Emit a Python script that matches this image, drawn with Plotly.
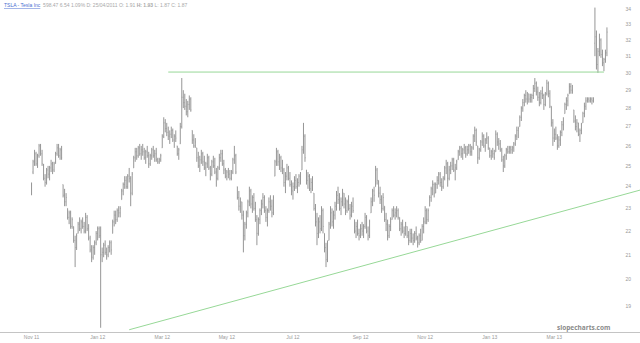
import math
import pandas as pd
import plotly.graph_objects as go

# ---------------- data ----------------
opens = [
    23.7,
    24.7, 25.2, 25.6,
    25.1, 25.5, 26.0, 25.6,
    25.0, 24.4, 24.2,
    24.8, 24.6, 24.9, 25.1, 24.8,
    25.2, 25.6, 25.9, 25.5, 25.8,
    24.1, 23.6, 23.3,
    23.0, 22.6, 22.8, 22.2,
    22.2, 21.6, 21.3,
    21.9, 22.3, 22.1, 22.4, 22.2,
    22.0, 22.6, 22.1,
    21.7, 21.2, 20.9, 21.3,
    21.5, 21.9, 22.1,
    21.8,
    21.0, 21.1, 21.4, 21.1, 21.0, 21.3, 21.5,
    21.9, 22.4, 22.7,
    22.5, 22.9, 22.8,
    23.4, 23.8, 24.1, 24.3,
    24.0, 24.5, 24.4, 23.7,
    24.9, 25.4, 25.7,
    25.5, 25.9, 25.6, 25.8, 25.7,
    25.4, 25.7, 25.5, 25.1, 25.5, 25.8, 25.5, 25.6,
    25.3, 25.2, 25.3,
    25.9, 26.5, 27.2, 26.9,
    26.7, 26.5, 26.6, 26.8, 26.3, 26.5,
    26.0, 25.6,
    26.1, 27.0, 28.6,
    28.3, 28.1, 27.8, 28.2, 28.5,
    26.8, 26.3, 26.0,
    25.9, 25.4, 25.0, 25.3, 25.6,
    25.2, 24.9, 25.1, 25.4, 24.9, 24.6, 25.2,
    25.0, 24.7, 24.4, 24.9, 25.4, 25.6, 25.1,
    24.8, 24.5, 24.7, 24.6, 24.4,
    24.7, 25.3, 25.5,
    24.0, 23.5, 23.1,
    23.3, 22.7, 21.8, 22.3,
    22.8, 23.3, 23.8, 23.2, 23.5,
    23.0, 22.5, 21.9, 22.5,
    22.9, 23.2, 23.5, 22.9, 22.6, 22.9, 23.3, 23.1, 22.8,
    24.5, 25.2, 25.7, 25.2, 25.4,
    24.9, 24.8, 24.2, 24.5, 24.9,
    24.4, 24.1, 23.8, 24.0, 24.3, 24.0, 24.2, 24.5,
    24.8, 25.8, 26.5,
    24.8, 24.3, 24.5, 23.9, 24.2,
    23.7, 23.0, 22.4, 21.9, 22.4,
    22.1, 22.9,
    21.9, 21.3, 20.8,
    21.6, 22.3, 22.8, 22.4,
    22.7, 23.1, 23.6, 23.4, 23.0, 23.3,
    23.7, 23.2, 22.9, 23.3, 23.0, 22.7, 23.1,
    22.5, 22.0, 22.2, 21.9, 21.8, 22.1, 22.0,
    22.2, 22.6, 22.0, 21.8,
    22.8, 23.3, 23.8,
    24.0, 24.8,
    24.3, 23.7, 23.4, 23.0,
    23.1, 22.5, 22.3, 21.8, 22.2,
    22.5, 22.9, 22.7, 22.8, 22.9,
    22.6, 22.1, 22.3, 22.0, 21.9,
    22.2, 21.8, 21.6, 21.9, 21.7,
    21.6, 21.9, 21.7, 21.5, 21.8,
    21.6, 22.2, 22.4, 22.9, 22.5,
    23.1, 23.5, 23.9, 24.1,
    23.7, 24.1, 24.3, 24.6, 24.2, 24.0,
    24.4, 24.9, 25.1, 24.4,
    24.8, 25.0, 25.3, 24.8, 24.9,
    25.3, 25.7, 25.9, 25.6,
    25.8, 25.9, 25.6, 25.8, 26.0, 25.7,
    25.9, 26.5, 26.8,
    26.0, 25.4, 25.8,
    26.2, 26.5, 26.0, 26.3, 26.4,
    25.9, 25.5, 25.7, 25.6,
    25.7, 26.6, 26.2, 26.1,
    25.8, 25.3, 25.0, 25.5,
    25.8, 25.7, 25.9, 25.8, 25.9,
    26.1, 26.5, 26.8,
    27.0, 27.5, 28.0,
    28.3, 28.7, 28.5,
    28.8, 28.5, 28.6,
    28.7, 29.1, 29.4,
    28.9, 28.6, 28.3,
    28.8, 28.7, 28.2,
    28.8, 29.4, 28.8,
    28.1, 27.2, 26.4,
    26.6, 26.4, 26.0,
    26.3, 26.7, 27.1,
    27.7, 28.2, 28.4,
    28.8, 29.2, 29.0,
    27.9, 27.3, 27.0,
    27.2, 26.6, 26.8,
    27.2, 27.7, 28.1,
    28.4, 28.5, 28.4, 28.5, 28.4,
    31.8, 32.2,
    30.5, 31.3, 32.0,
    31.1, 30.6, 30.8,
    31.2,
]

highs = [
    24.2,
    25.3, 25.8, 25.7,
    25.6, 26.1, 26.1, 25.8,
    25.1, 24.6, 24.9,
    25.0, 25.0, 25.3, 25.2, 25.2,
    25.7, 26.1, 26.1, 25.9, 26.0,
    24.1, 23.9, 23.7,
    23.0, 22.9, 22.9, 22.6,
    22.2, 21.8, 21.9,
    22.4, 22.6, 22.5, 22.6, 22.4,
    22.8, 22.7, 22.3,
    21.8, 21.4, 21.4, 21.6,
    22.0, 22.2, 22.2,
    22.2,
    21.3, 21.5, 21.6, 21.3, 21.4, 21.6, 21.6,
    22.5, 22.9, 22.9,
    23.0, 23.1, 23.1,
    23.9, 24.2, 24.5, 24.5,
    24.6, 24.9, 24.5, 24.7,
    25.5, 25.9, 25.9,
    26.0, 26.1, 26.0, 26.1, 25.9,
    25.8, 26.0, 25.7, 25.6, 25.9, 26.0, 25.8, 25.9,
    25.4, 25.4, 25.6,
    26.6, 27.5, 27.4, 27.2,
    27.0, 26.8, 27.0, 26.9, 26.6, 26.8,
    26.0, 25.9,
    27.2, 29.7, 29.0,
    28.8, 28.5, 28.4, 28.7, 28.6,
    26.8, 26.6, 26.4,
    25.9, 25.7, 25.5, 25.8, 25.7,
    25.5, 25.2, 25.6, 25.5, 25.0, 25.3, 25.5,
    25.4, 24.9, 25.0, 25.6, 25.8, 25.8, 25.3,
    24.9, 24.8, 24.9, 24.8, 24.8,
    25.4, 26.0, 25.6,
    24.0, 23.8, 23.5,
    23.3, 22.9, 22.4, 22.9,
    23.4, 24.0, 23.9, 23.6, 23.7,
    23.3, 22.7, 22.6, 23.0,
    23.4, 23.7, 23.6, 23.1, 23.0, 23.5, 23.6, 23.4, 23.6,
    25.3, 25.9, 25.8, 25.6, 25.5,
    25.3, 24.9, 24.7, 25.1, 25.0,
    24.7, 24.3, 24.2, 24.5, 24.6, 24.4, 24.6, 24.7,
    26.0, 27.2, 26.6,
    24.8, 24.7, 24.6, 24.4, 24.5,
    23.7, 23.2, 22.8, 22.6, 22.7,
    23.1, 23.0,
    21.9, 21.5, 21.6,
    22.4, 23.1, 23.0, 22.9,
    23.3, 23.8, 24.0, 23.7, 23.5, 23.9,
    23.7, 23.5, 23.4, 23.6, 23.2, 23.3, 23.5,
    22.5, 22.4, 22.5, 22.1, 22.3, 22.4, 22.3,
    22.8, 22.7, 22.2, 22.5,
    23.5, 23.9, 24.0,
    25.0, 24.9,
    24.3, 24.0, 23.6, 23.7,
    23.1, 22.8, 22.5, 22.3, 22.6,
    23.0, 23.1, 23.0, 23.1, 23.0,
    22.6, 22.4, 22.5, 22.2, 22.4,
    22.2, 22.0, 22.1, 22.1, 21.9,
    22.0, 22.2, 21.8, 21.9, 22.1,
    22.3, 22.6, 23.1, 23.0, 23.0,
    23.6, 24.0, 24.3, 24.2,
    24.2, 24.5, 24.7, 24.7, 24.4, 24.5,
    25.0, 25.3, 25.2, 25.0,
    25.2, 25.4, 25.4, 25.1, 25.3,
    25.8, 26.0, 26.0, 25.9,
    26.1, 26.0, 26.0, 26.1, 26.1, 26.0,
    26.6, 27.0, 26.9,
    26.0, 25.9, 26.3,
    26.7, 26.6, 26.4, 26.7, 26.5,
    25.9, 25.8, 25.9, 25.8,
    26.8, 26.7, 26.4, 26.3,
    25.9, 25.5, 25.6, 25.9,
    26.0, 26.0, 26.0, 26.0, 26.2,
    26.6, 27.0, 27.0,
    27.6, 28.1, 28.5,
    28.8, 29.0, 28.9,
    28.8, 28.8, 28.8,
    29.3, 29.7, 29.5,
    29.2, 28.9, 29.0,
    29.2, 28.8, 28.9,
    29.6, 29.5, 29.0,
    28.1, 27.4, 26.9,
    27.0, 26.6, 26.5,
    26.8, 27.3, 27.5,
    28.3, 28.6, 28.8,
    29.4, 29.4, 29.3,
    27.9, 27.6, 27.4,
    27.2, 26.9, 27.2,
    27.8, 28.3, 28.6,
    28.6, 28.6, 28.6, 28.6, 28.6,
    34.1, 32.6,
    31.5, 32.4, 32.1,
    31.4, 30.9, 31.4,
    32.8,
]

lows = [
    23.6,
    24.6, 25.0, 25.0,
    24.9, 25.4, 25.5, 25.0,
    24.3, 24.0, 24.1,
    24.4, 24.3, 24.7, 24.6, 24.7,
    25.1, 25.5, 25.4, 25.3, 25.3,
    23.5, 23.1, 23.1,
    22.5, 22.3, 22.1, 22.1,
    21.5, 20.5, 21.2,
    21.9, 22.0, 21.9, 22.1, 21.9,
    21.9, 22.0, 21.6,
    21.1, 20.7, 20.8, 21.0,
    21.4, 21.6, 21.7,
    18.2,
    20.7, 20.9, 21.0, 20.8, 20.9, 21.1, 21.0,
    21.9, 22.2, 22.3,
    22.4, 22.6, 22.6,
    23.4, 23.6, 23.9, 23.9,
    23.9, 24.2, 23.1, 23.6,
    24.9, 25.2, 25.3,
    25.4, 25.5, 25.3, 25.5, 25.3,
    25.1, 25.4, 24.9, 25.0, 25.3, 25.4, 25.2, 25.2,
    25.1, 25.1, 25.2,
    25.9, 26.4, 26.7, 26.5,
    26.3, 26.1, 26.4, 26.2, 25.9, 26.2,
    25.5, 25.3,
    26.1, 26.9, 28.0,
    27.9, 27.6, 27.5, 27.9, 27.8,
    26.1, 25.9, 25.9,
    25.2, 24.9, 24.7, 25.1, 25.0,
    24.8, 24.5, 24.9, 24.8, 24.3, 24.5, 24.9,
    24.6, 24.0, 24.3, 24.8, 25.2, 25.0, 24.6,
    24.4, 24.3, 24.4, 24.3, 24.3,
    24.6, 25.1, 24.6,
    23.4, 22.9, 22.8,
    22.5, 21.1, 21.6, 22.1,
    22.6, 23.1, 23.0, 22.8, 22.9,
    22.4, 21.4, 21.8, 22.3,
    22.7, 23.0, 22.8, 22.4, 22.2, 22.8, 22.9, 22.6, 22.7,
    24.5, 25.0, 25.0, 24.8, 24.7,
    24.6, 24.0, 23.7, 24.3, 24.3,
    24.0, 23.6, 23.4, 23.8, 23.9, 23.7, 24.0, 24.1,
    24.8, 25.6, 25.2,
    24.1, 23.9, 23.8, 23.7, 23.8,
    22.9, 22.2, 21.4, 21.7, 21.9,
    22.0, 21.9,
    21.1, 20.5, 20.7,
    21.6, 22.1, 22.2, 22.1,
    22.5, 22.9, 23.2, 22.9, 22.7, 23.1,
    23.0, 22.7, 22.8, 22.9, 22.5, 22.6, 22.8,
    21.9, 21.7, 21.8, 21.6, 21.7, 21.8, 21.7,
    22.1, 21.9, 21.6, 21.7,
    22.8, 23.1, 23.3,
    24.0, 24.1,
    23.5, 23.2, 22.8, 22.9,
    22.4, 22.0, 21.6, 21.7, 22.0,
    22.5, 22.6, 22.5, 22.6, 22.5,
    22.0, 21.8, 21.9, 21.7, 21.8,
    21.7, 21.4, 21.5, 21.5, 21.4,
    21.5, 21.6, 21.3, 21.4, 21.5,
    21.6, 21.9, 22.3, 22.3, 22.4,
    23.1, 23.3, 23.6, 23.5,
    23.7, 23.9, 24.1, 24.0, 23.8, 23.9,
    24.3, 24.6, 24.0, 24.3,
    24.6, 24.8, 24.7, 24.3, 24.8,
    25.3, 25.5, 25.4, 25.3,
    25.6, 25.4, 25.5, 25.6, 25.5, 25.5,
    25.8, 26.2, 26.0,
    25.1, 25.3, 25.7,
    26.0, 25.9, 25.7, 26.1, 25.8,
    25.4, 25.3, 25.4, 25.3,
    25.7, 26.0, 25.8, 25.7,
    25.2, 24.7, 24.9, 25.3,
    25.6, 25.6, 25.6, 25.6, 25.7,
    26.0, 26.3, 26.4,
    27.0, 27.3, 27.8,
    28.1, 28.3, 28.2,
    28.3, 28.3, 28.3,
    28.5, 28.9, 28.7,
    28.4, 28.1, 28.2,
    28.5, 27.9, 28.1,
    28.7, 28.6, 28.0,
    27.0, 26.0, 26.2,
    26.3, 25.8, 25.9,
    26.0, 26.5, 26.8,
    27.7, 27.9, 28.1,
    28.8, 28.8, 28.8,
    27.2, 26.8, 26.7,
    26.5, 26.2, 26.6,
    27.2, 27.5, 27.9,
    28.3, 28.3, 28.3, 28.2, 28.3,
    31.0, 30.2,
    30.0, 31.0, 30.9,
    30.4, 30.1, 30.6,
    31.0,
]

closes = [
    24.1,
    25.2, 25.6, 25.1,
    25.5, 26.0, 25.7, 25.1,
    24.4, 24.2, 24.8,
    24.6, 24.9, 25.1, 24.8, 25.1,
    25.6, 25.9, 25.5, 25.8, 25.4,
    23.6, 23.3, 23.5,
    22.6, 22.8, 22.2, 22.5,
    21.6, 21.3, 21.8,
    22.3, 22.1, 22.4, 22.2, 22.0,
    22.6, 22.1, 21.7,
    21.2, 20.9, 21.3, 21.5,
    21.9, 22.1, 21.8,
    21.0,
    21.1, 21.4, 21.1, 21.0, 21.3, 21.5, 21.2,
    22.4, 22.7, 22.5,
    22.9, 22.8, 23.0,
    23.8, 24.1, 24.3, 24.0,
    24.5, 24.4, 23.7, 24.6,
    25.4, 25.7, 25.5,
    25.9, 25.6, 25.8, 25.7, 25.4,
    25.7, 25.5, 25.1, 25.5, 25.8, 25.5, 25.6, 25.3,
    25.2, 25.3, 25.5,
    26.5, 27.2, 26.9, 26.7,
    26.5, 26.6, 26.8, 26.3, 26.5, 26.4,
    25.6, 25.8,
    27.0, 28.6, 28.3,
    28.1, 27.8, 28.2, 28.5, 27.9,
    26.3, 26.0, 26.2,
    25.4, 25.0, 25.3, 25.6, 25.2,
    24.9, 25.1, 25.4, 24.9, 24.6, 25.2, 25.0,
    24.7, 24.4, 24.9, 25.4, 25.6, 25.1, 24.8,
    24.5, 24.7, 24.6, 24.4, 24.7,
    25.3, 25.5, 24.7,
    23.5, 23.1, 23.3,
    22.7, 21.8, 22.3, 22.8,
    23.3, 23.8, 23.2, 23.5, 23.0,
    22.5, 21.9, 22.5, 22.9,
    23.2, 23.5, 22.9, 22.6, 22.9, 23.3, 23.1, 22.8, 23.5,
    25.2, 25.7, 25.2, 25.4, 24.9,
    24.8, 24.2, 24.5, 24.9, 24.4,
    24.1, 23.8, 24.0, 24.3, 24.0, 24.2, 24.5, 24.3,
    25.8, 26.5, 25.4,
    24.3, 24.5, 23.9, 24.2, 23.9,
    23.0, 22.4, 21.9, 22.4, 22.1,
    22.9, 22.2,
    21.3, 20.8, 21.5,
    22.3, 22.8, 22.4, 22.7,
    23.1, 23.6, 23.4, 23.0, 23.3, 23.7,
    23.2, 22.9, 23.3, 23.0, 22.7, 23.1, 22.9,
    22.0, 22.2, 21.9, 21.8, 22.1, 22.0, 22.2,
    22.6, 22.0, 21.8, 22.4,
    23.3, 23.8, 23.6,
    24.8, 24.3,
    23.7, 23.4, 23.0, 23.5,
    22.5, 22.3, 21.8, 22.2, 22.4,
    22.9, 22.7, 22.8, 22.9, 22.6,
    22.1, 22.3, 22.0, 21.9, 22.2,
    21.8, 21.6, 21.9, 21.7, 21.6,
    21.9, 21.7, 21.5, 21.8, 21.6,
    22.2, 22.4, 22.9, 22.5, 22.9,
    23.5, 23.9, 24.1, 23.7,
    24.1, 24.3, 24.6, 24.2, 24.0, 24.4,
    24.9, 25.1, 24.4, 24.8,
    25.0, 25.3, 24.8, 24.9, 25.2,
    25.7, 25.9, 25.6, 25.8,
    25.9, 25.6, 25.8, 26.0, 25.7, 25.9,
    26.5, 26.8, 26.2,
    25.4, 25.8, 26.2,
    26.5, 26.0, 26.3, 26.4, 25.9,
    25.5, 25.7, 25.6, 25.4,
    26.6, 26.2, 26.1, 25.8,
    25.3, 25.0, 25.5, 25.8,
    25.7, 25.9, 25.8, 25.9, 26.1,
    26.5, 26.8, 26.9,
    27.5, 28.0, 28.3,
    28.7, 28.5, 28.8,
    28.5, 28.6, 28.7,
    29.1, 29.4, 28.9,
    28.6, 28.3, 28.8,
    28.7, 28.2, 28.8,
    29.4, 28.8, 28.1,
    27.2, 26.4, 26.6,
    26.4, 26.0, 26.3,
    26.7, 27.1, 27.3,
    28.2, 28.4, 28.7,
    29.2, 29.0, 28.9,
    27.3, 27.0, 27.2,
    26.6, 26.8, 27.1,
    27.7, 28.1, 28.4,
    28.5, 28.4, 28.5, 28.4, 28.5,
    32.2, 30.5,
    31.3, 32.0, 31.1,
    30.6, 30.8, 31.2,
    32.5,
]

first_session = "2011-11-01"

# trend lines drawn on the chart (anchor dates / prices)
resistance_dates = ["2012-03-07", "2013-04-17"]
resistance_values = [30.05, 30.05]
support_dates = ["2012-01-31", "2013-05-21"]
support_values = [18.13, 23.84]

# axis ticks
y_tick_values = [34, 33, 32, 31, 30, 29, 28, 27, 26, 25, 24, 23, 22, 21, 20, 19]
x_tick_dates = ["2011-11-01", "2012-01-02", "2012-03-01", "2012-05-01", "2012-07-02",
                "2012-09-03", "2012-11-01", "2013-01-01", "2013-03-01"]
x_tick_labels = ["Nov 11", "Jan 12", "Mar 12", "May 12", "Jul 12",
                 "Sep 12", "Nov 12", "Jan 13", "Mar 13"]

header_symbol = "TSLA - Tesla Inc"
header_info = "598.47 6.54 1.09% D: 25/04/2011 O: 1.91 <b>H: 1.93</b> L: 1.87 C: 1.87"
watermark = "slopecharts.com"

assert len(opens) == len(highs) == len(lows) == len(closes), (
    len(opens), len(highs), len(lows), len(closes))

dates = pd.bdate_range(first_session, periods=len(closes))

# ---------------- figure ----------------
bar_color = "#969696"
line_green = "#97d897"

fig = go.Figure()
fig.add_trace(go.Ohlc(
    x=dates, open=opens, high=highs, low=lows, close=closes,
    increasing=dict(line=dict(color=bar_color, width=1)),
    decreasing=dict(line=dict(color=bar_color, width=1)),
    tickwidth=0.3, hoverinfo="skip", showlegend=False,
))
fig.add_trace(go.Scatter(
    x=resistance_dates, y=resistance_values, mode="lines",
    line=dict(color=line_green, width=1), hoverinfo="skip", showlegend=False,
))
fig.add_trace(go.Scatter(
    x=support_dates, y=support_values, mode="lines",
    line=dict(color=line_green, width=1), hoverinfo="skip", showlegend=False,
))

fig.update_layout(
    width=640, height=343,
    margin=dict(l=0, r=0, t=0, b=11),
    paper_bgcolor="white", plot_bgcolor="white",
    font=dict(family="Liberation Sans, Arial, sans-serif", color="#999999"),
    showlegend=False,
    xaxis=dict(
        type="date",
        range=["2011-10-03", "2013-05-21"],
        rangebreaks=[dict(bounds=["sat", "mon"])],
        rangeslider=dict(visible=False),
        showgrid=False, zeroline=False,
        showline=True, linecolor="#c4c4c4", linewidth=1,
        ticks="", tickvals=x_tick_dates, ticktext=x_tick_labels,
        tickfont=dict(size=5, color="#9a9a9a"),
        fixedrange=True,
    ),
    yaxis=dict(
        type="log",
        range=[math.log10(18.05), math.log10(34.61)],
        side="right",
        ticklabelposition="inside",
        showgrid=False, zeroline=False, showline=False,
        ticks="", tickvals=y_tick_values, ticktext=[str(v) for v in y_tick_values],
        tickfont=dict(size=5, color="#9a9a9a"),
        ticklabelstandoff=6,
        fixedrange=True,
    ),
    annotations=[
        dict(
            xref="paper", yref="paper", x=0.003, y=1.0,
            xanchor="left", yanchor="top", showarrow=False,
            text=(f"<span style='color:#4a6fd0'><u>{header_symbol}</u></span>"
                  f"  <span style='color:#a8a8a8'>{header_info}</span>"),
            font=dict(size=5),
        ),
        dict(
            xref="paper", yref="paper", x=0.911, y=0.015,
            xanchor="center", yanchor="middle", showarrow=False,
            text=f"<b>{watermark}</b>",
            font=dict(size=6.5, color="#8a8a8a", family="Open Sans, Liberation Sans, sans-serif"),
        ),
    ],
)

fig.write_html("out.html")
